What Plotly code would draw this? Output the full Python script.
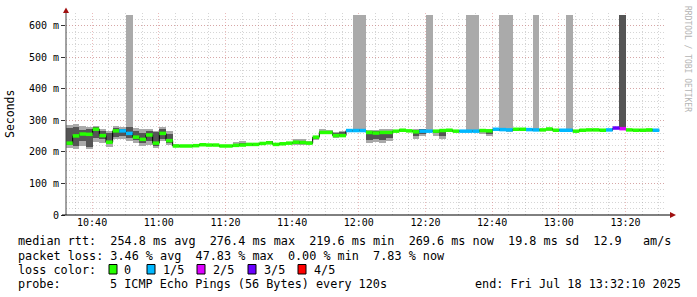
import plotly.graph_objects as go
from datetime import datetime, timedelta

# ---------------- data (ms) ----------------
start = datetime(2025, 7, 18, 10, 32, 10)
end = datetime(2025, 7, 18, 13, 32, 10)
step_minutes = 2

median_ms = [228, 251, 257, 256, 272, 252, 231, 267, 267, 259,
             247, 240, 254, 228, 259, 236, 219, 219, 219, 220,
             223, 222, 222, 219, 219, 221, 222, 224, 224, 227,
             229, 224, 226, 228, 231, 230, 228, 247, 262, 262,
             252, 252, 268, 268, 268, 262, 260, 262, 262, 266,
             269, 267, 264, 266, 266, 266, 268, 269, 266, 266,
             266, 266, 268, 267, 272, 271, 270, 272, 272, 271,
             270, 270, 273, 269, 269, 269, 266, 269, 270, 270,
             269, 270, 276, 274, 270, 269, 269, 270, 269]
loss_idx = [0, 0, 0, 0, 0, 0, 0, 0, 1, 1,
            0, 0, 0, 0, 0, 0, 0, 0, 0, 0,
            0, 0, 0, 0, 0, 0, 0, 0, 0, 0,
            0, 0, 0, 0, 0, 0, 0, 0, 0, 0,
            0, 0, 1, 1, 1, 0, 0, 0, 0, 0,
            0, 0, 0, 1, 1, 0, 0, 0, 0, 1,
            1, 1, 0, 0, 1, 1, 1, 0, 0, 1,
            1, 0, 0, 0, 1, 1, 0, 0, 0, 0,
            0, 1, 3, 2, 0, 0, 0, 0, 1]
light_lo = [212, 210, 220, 210, 232, 230, 216, 240, 242, 236,
            230, 220, 222, 214, 236, 222, 215, 217, 217, 218,
            220, 219, 219, 216, 216, 218, 218, 218, 221, 223,
            224, 221, 222, 224, 222, 222, 224, 238, 256, 258,
            244, 246, 264, 262, 262, 228, 232, 230, 234, 262,
            265, 263, 242, 250, 262, 250, 240, 264, 262, 262,
            262, 262, 258, 252, 266, 266, 264, 268, 268, 267,
            266, 266, 268, 265, 265, 265, 262, 266, 266, 266,
            265, 266, 272, 270, 266, 264, 265, 262, 265]
light_hi = [286, 288, 282, 278, 284, 274, 268, 282, 280, 635,
            276, 272, 274, 268, 280, 266, 226, 222, 222, 223,
            226, 225, 225, 222, 223, 232, 234, 228, 227, 230,
            236, 228, 229, 232, 240, 240, 236, 252, 272, 270,
            264, 266, 272, 635, 635, 270, 270, 272, 272, 270,
            272, 270, 272, 274, 635, 270, 272, 272, 270, 270,
            635, 635, 272, 272, 276, 635, 635, 275, 276, 275,
            635, 274, 276, 272, 272, 635, 270, 272, 273, 273,
            272, 274, 280, 635, 274, 272, 272, 274, 272]
dark_lo = [222, 220, 236, 216, 244, 240, 228, 248, 250, 244,
           238, 228, 236, 220, 242, 230, 217, 218, 218, 219,
           221, 220, 220, 217, 217, 219, 220, 221, 222, 225,
           226, 222, 224, 226, 226, 226, 226, 240, 258, 259,
           248, 250, 266, 265, 265, 238, 240, 238, 244, 264,
           267, 265, 250, 256, 264, 260, 250, 266, 264, 264,
           264, 264, 262, 258, 268, 268, 266, 270, 270, 269,
           268, 268, 270, 267, 267, 267, 264, 267, 268, 268,
           267, 268, 274, 272, 268, 266, 267, 266, 267]
dark_hi = [276, 280, 270, 272, 278, 266, 260, 276, 274, 278,
           266, 260, 266, 262, 274, 256, 222, 221, 221, 222,
           224, 224, 224, 221, 221, 226, 228, 226, 226, 229,
           234, 226, 228, 230, 236, 236, 232, 250, 266, 266,
           260, 262, 270, 272, 272, 268, 266, 268, 268, 268,
           271, 269, 270, 272, 270, 268, 270, 271, 268, 268,
           270, 270, 270, 270, 274, 274, 274, 274, 274, 273,
           273, 272, 275, 271, 271, 272, 268, 271, 272, 272,
           271, 272, 278, 635, 272, 271, 271, 273, 271]

loss_colors = ["#26ff00", "#00b8ff", "#dd00ff", "#6a00ff", "#ff0000"]
loss_labels = ["0", "1/5", "2/5", "3/5", "4/5"]

y_tickvals = [0, 100, 200, 300, 400, 500, 600]
y_ticktext = ["0", "100 m", "200 m", "300 m", "400 m", "500 m", "600 m"]

stats_line1 = "median rtt:  254.8 ms avg  276.4 ms max  219.6 ms min  269.6 ms now  19.8 ms sd  12.9   am/s"
stats_line2 = "packet loss: 3.46 % avg  47.83 % max  0.00 % min  7.83 % now"
probe_text = "5 ICMP Echo Pings (56 Bytes) every 120s"
end_text = "end: Fri Jul 18 13:32:10 2025"

# ---------------- derived ----------------
n = len(median_ms)
step_ms = step_minutes * 60 * 1000
centers = [start + timedelta(minutes=step_minutes * k + step_minutes / 2) for k in range(n)]
edges = [start + timedelta(minutes=step_minutes * k) for k in range(n + 1)]

fig = go.Figure()
fig.add_trace(go.Bar(x=centers, base=light_lo, y=[h - l for h, l in zip(light_hi, light_lo)],
                     width=step_ms, marker=dict(color="#aaaaaa", line=dict(width=0)),
                     hoverinfo="skip"))
fig.add_trace(go.Bar(x=centers, base=dark_lo, y=[h - l for h, l in zip(dark_hi, dark_lo)],
                     width=step_ms, marker=dict(color="#555555", line=dict(width=0)),
                     hoverinfo="skip"))
fig.add_trace(go.Scatter(x=edges, y=median_ms + [median_ms[-1]], mode="lines",
                         line=dict(color="#000000", width=1, shape="hv"), hoverinfo="skip"))
# coloured median segments, one trace per loss colour
for ci, col in enumerate(loss_colors):
    xs, ys = [], []
    for k in range(n):
        if loss_idx[k] == ci:
            xs += [edges[k], edges[k + 1], None]
            ys += [median_ms[k], median_ms[k], None]
    if xs:
        fig.add_trace(go.Scatter(x=xs, y=ys, mode="lines", line=dict(color=col, width=3.5),
                                 hoverinfo="skip", connectgaps=False))

L, R, T, B = 66, 666, 13, 215
W, H = 697, 297


def px(x):
    return (x - L) / (R - L)


def py(y):
    return (B - y) / (B - T)


mono = "DejaVu Sans Mono"
minor_grid = "rgba(150,150,150,0.4)"
major_grid = "rgba(215,120,120,0.5)"

fig.update_layout(
    width=W, height=H,
    margin=dict(l=L, r=W - R, t=T, b=H - B, pad=0),
    paper_bgcolor="white", plot_bgcolor="white",
    barmode="overlay", bargap=0, showlegend=False,
    font=dict(family=mono, size=10, color="black"),
)
fig.update_xaxes(
    type="date", range=[start, end],
    tick0="2025-07-18 10:40:00", dtick=20 * 60 * 1000, tickformat="%H:%M",
    showgrid=True, gridcolor=major_grid, griddash="1px,2px", gridwidth=1,
    minor=dict(tick0="2025-07-18 10:40:00", dtick=5 * 60 * 1000, showgrid=True,
               gridcolor=minor_grid, griddash="1px,2px", gridwidth=1),
    showline=False, zeroline=False, ticks="", ticklen=0,
    tickfont=dict(family=mono, size=10, color="black"),
)
fig.update_yaxes(
    range=[0, 641], tickvals=y_tickvals, ticktext=y_ticktext,
    showgrid=True, gridcolor=major_grid, griddash="1px,2px", gridwidth=1,
    minor=dict(dtick=20, tick0=0, showgrid=True, gridcolor=minor_grid,
               griddash="1px,2px", gridwidth=1),
    showline=False, zeroline=False, ticks="outside", ticklen=4, tickcolor="#333333",
    tickfont=dict(family=mono, size=10, color="black"),
)

shapes = []
# axes
shapes.append(dict(type="line", xref="paper", yref="paper", x0=px(66), x1=px(66), y0=py(215), y1=py(12),
                   line=dict(color="#444444", width=1)))
shapes.append(dict(type="line", xref="paper", yref="paper", x0=px(62), x1=px(671), y0=py(215), y1=py(215),
                   line=dict(color="#000000", width=1)))
# arrows
shapes.append(dict(type="path", xref="paper", yref="paper",
                   path=f"M {px(63)} {py(13)} L {px(69)} {py(13)} L {px(66)} {py(7.5)} Z",
                   fillcolor="#a01010", line=dict(width=0)))
shapes.append(dict(type="path", xref="paper", yref="paper",
                   path=f"M {px(670)} {py(212)} L {px(670)} {py(218)} L {px(676)} {py(215)} Z",
                   fillcolor="#a01010", line=dict(width=0)))

annotations = []


def txt(x, y, s, anchor="left", size=11.8, color="black", family=mono, angle=0):
    annotations.append(dict(x=px(x), y=py(y), xref="paper", yref="paper", text=s.replace(" ", "\u00a0"),
                            showarrow=False, xanchor=anchor, yanchor="middle", textangle=angle,
                            font=dict(family=family, size=size, color=color)))


txt(16, 241, stats_line1)
txt(16, 255.5, stats_line2)
txt(16, 269.5, "loss color:")
sq_x = [109, 147, 197, 248, 298]
lab_x = [122, 161, 211, 262, 312]
for c, lab, sx, lx in zip(loss_colors, loss_labels, sq_x, lab_x):
    shapes.append(dict(type="rect", xref="paper", yref="paper", x0=px(sx), x1=px(sx + 8),
                       y0=py(264.5), y1=py(274), fillcolor=c, line=dict(color="black", width=1)))
    txt(lx, 269.5, lab)
txt(16, 283.5, "probe:")
txt(108, 283.5, probe_text)
txt(683, 283.5, end_text, anchor="right")

# y-axis title
annotations.append(dict(x=px(10), y=py(114), xref="paper", yref="paper", text="Seconds",
                        showarrow=False, textangle=-90, xanchor="center", yanchor="middle",
                        font=dict(family=mono, size=11.5, color="black")))
# watermark
annotations.append(dict(x=px(687), y=py(59), xref="paper", yref="paper", text="RRDTOOL / TOBI OETIKER",
                        showarrow=False, textangle=90, xanchor="center", yanchor="middle",
                        font=dict(family=mono, size=8, color="#b4b4b4")))

fig.update_layout(shapes=shapes, annotations=annotations)
fig.write_html("out.html")
